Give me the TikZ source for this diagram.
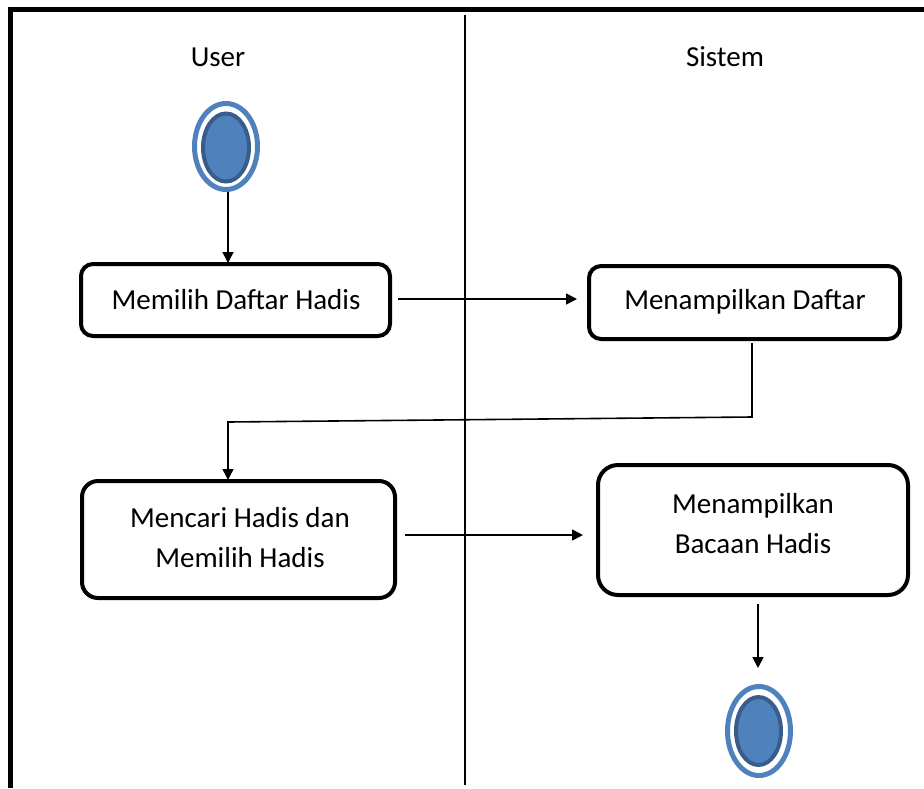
\documentclass[tikz,border=0pt]{standalone}
\usepackage{fontspec}
\setmainfont{Carlito}
\usetikzlibrary{arrows.meta}
\definecolor{nodeblue}{HTML}{4F81BD}
\definecolor{nodeedge}{HTML}{385D8A}
\begin{document}
\begin{tikzpicture}[x=1pt,y=-1pt,
  action/.style={draw=black,line width=4pt,rounded corners=12pt,fill=white},
  label/.style={font=\fontsize{29}{40}\selectfont,align=center},
  flow/.style={draw=black,line width=1.6pt,-{Triangle[length=11pt,width=11pt]}},
  frame/.style={draw=black,line width=5pt},
  lane/.style={draw=black,line width=1.6pt}]
\useasboundingbox (0,0) rectangle (924,788);

% swimlane frame and divider
\draw[frame] (10.5,788) -- (10.5,9.5) -- (924,9.5);
\draw[lane] (465,15) -- (465,785);

% lane titles
\node[label] (tuser) at (218,57) {User};
\node[label] (tsys) at (725,57) {Sistem};

% initial node
\draw[nodeblue,line width=5pt] (226,146.5) ellipse [x radius=31.5,y radius=43];
\draw[nodeedge,fill=nodeblue,line width=4pt] (226,147.5) ellipse [x radius=23,y radius=34];
\coordinate (start) at (228,192);

% final node
\draw[nodeblue,line width=5pt] (759,731) ellipse [x radius=31.5,y radius=44.5];
\draw[nodeedge,fill=nodeblue,line width=4pt] (758.5,731) ellipse [x radius=22.5,y radius=34];
\coordinate (finish) at (758,668);

% actions
\draw[action] (81,264) rectangle (390,336);
\node[label] (a1) at (236,300) {Memilih Daftar Hadis};
\coordinate (a1t) at (228,263);
\coordinate (a1r) at (398,299);

\draw[action] (589,266) rectangle (900,339);
\node[label] (a2) at (745,302) {Menampilkan Daftar};
\coordinate (a2l) at (577,299);
\coordinate (a2b) at (752,343);

\draw[action,rounded corners=16pt] (82,481) rectangle (395,598);
\node[label] (a3) at (240,538) {Mencari Hadis dan\\Memilih Hadis};
\coordinate (a3t) at (228,480);
\coordinate (a3r) at (405,535);

\draw[action,rounded corners=20pt] (598,465) rectangle (908,595);
\node[label] (a4) at (753,524) {Menampilkan\\Bacaan Hadis};
\coordinate (a4l) at (583,535);
\coordinate (a4b) at (758,604);

% control flow
\draw[flow] (start) -- (a1t);
\draw[flow] (a1r) -- (a2l);
\draw[flow] (a2b) -- (752,417) -- (228,422) -- (a3t);
\draw[flow] (a3r) -- (a4l);
\draw[flow] (a4b) -- (finish);
\end{tikzpicture}
\end{document}
